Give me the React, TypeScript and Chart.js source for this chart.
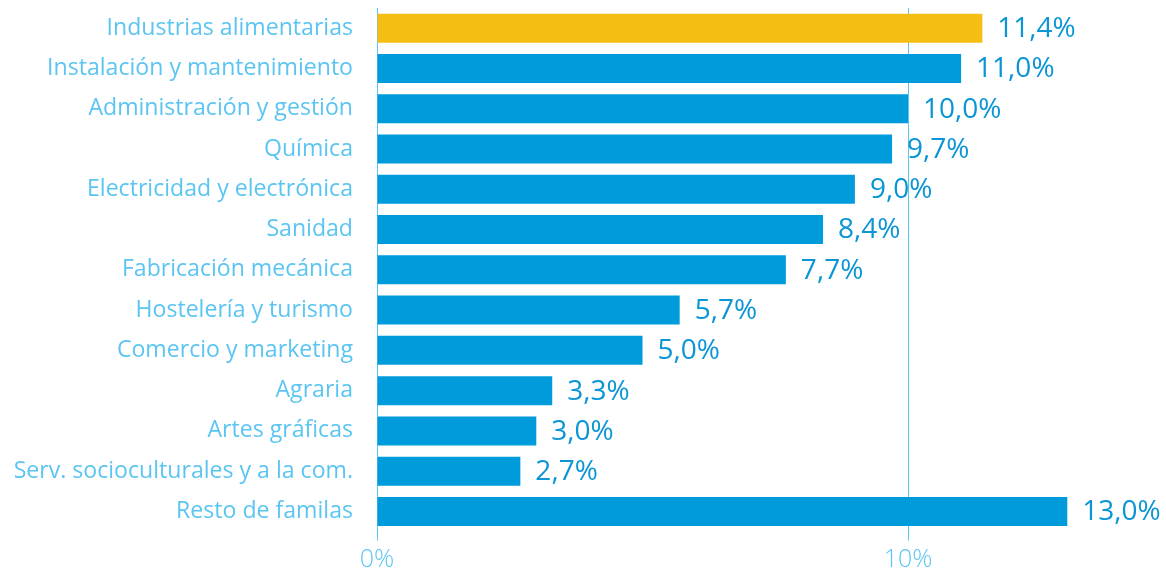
import React, { useEffect, useRef } from "react";
import { Chart, registerables } from "chart.js";

Chart.register(...registerables);

const categories = [
  "Industrias alimentarias",
  "Instalación y mantenimiento",
  "Administración y gestión",
  "Química",
  "Electricidad y electrónica",
  "Sanidad",
  "Fabricación mecánica",
  "Hostelería y turismo",
  "Comercio y marketing",
  "Agraria",
  "Artes gráficas",
  "Serv. socioculturales y a la com.",
  "Resto de familas",
];

const values = [11.4, 11.0, 10.0, 9.7, 9.0, 8.4, 7.7, 5.7, 5.0, 3.3, 3.0, 2.7, 13.0];

const highlightIndex = 0;

const xTicks = [0, 10];

const BAR_BLUE = "#009BDB";
const BAR_YELLOW = "#F4BF12";
const LABEL_BLUE = "#5BC5F2";
const VALUE_BLUE = "#0A95D5";
const FONT = "'Open Sans', 'Noto Sans', sans-serif";

const valueLabelPlugin = {
  id: "valueLabels",
  afterDatasetsDraw(chart: any) {
    const ctx = chart.ctx;
    const meta = chart.getDatasetMeta(0);
    ctx.save();
    ctx.font = `500 28px ${FONT}`;
    ctx.fillStyle = VALUE_BLUE;
    ctx.textAlign = "left";
    ctx.textBaseline = "middle";
    meta.data.forEach((bar: any, i: number) => {
      const v = values[i];
      const txt = v.toFixed(1).replace(".", ",") + "%";
      ctx.fillText(txt, bar.x + 15, bar.y + 1);
    });
    ctx.restore();
  },
};

export default function App() {
  const canvasRef = useRef<HTMLCanvasElement | null>(null);

  useEffect(() => {
    if (!canvasRef.current) return;
    const chart = new Chart(canvasRef.current, {
      type: "bar",
      data: {
        labels: categories,
        datasets: [
          {
            data: values,
            backgroundColor: values.map((_, i) => (i === highlightIndex ? BAR_YELLOW : BAR_BLUE)),
            borderWidth: 0,
            barPercentage: 0.8,
            categoryPercentage: 0.9,
          },
        ],
      },
      options: {
        indexAxis: "y",
        animation: false,
        responsive: true,
        maintainAspectRatio: false,
        layout: { padding: { top: 8, right: 45.6, bottom: 0, left: 0 } },
        plugins: {
          legend: { display: false },
          tooltip: { enabled: false },
        },
        scales: {
          x: {
            min: 0,
            max: 14,
            afterBuildTicks(scale: any) {
              scale.ticks = xTicks.map((v) => ({ value: v }));
            },
            afterFit(scale: any) {
              scale.height = 39.4;
              scale.paddingLeft = 0;
              scale.paddingRight = 0;
            },
            grid: {
              display: true,
              color: LABEL_BLUE,
              lineWidth: 1,
              drawTicks: true,
              tickLength: 9,
            },
            border: { display: false },
            ticks: {
              color: LABEL_BLUE,
              font: { family: FONT, size: 25, weight: 300 as any },
              padding: 4,
              maxRotation: 0,
              callback: (v: any) => `${v}%`,
            },
          },
          y: {
            afterFit(scale: any) {
              scale.width = 377;
              scale.paddingTop = 0;
              scale.paddingBottom = 0;
            },
            grid: { display: false, drawTicks: false },
            border: { display: true, color: LABEL_BLUE, width: 1 },
            ticks: {
              color: LABEL_BLUE,
              font: { family: FONT, size: 23.1, weight: 400 as any },
              padding: 24,
            },
          },
        },
      },
      plugins: [valueLabelPlugin],
    });
    return () => chart.destroy();
  }, []);

  return (
    <div style={{ position: "absolute", left: 0, top: 0, width: 1166, height: 571 }}>
      <canvas ref={canvasRef} />
    </div>
  );
}
